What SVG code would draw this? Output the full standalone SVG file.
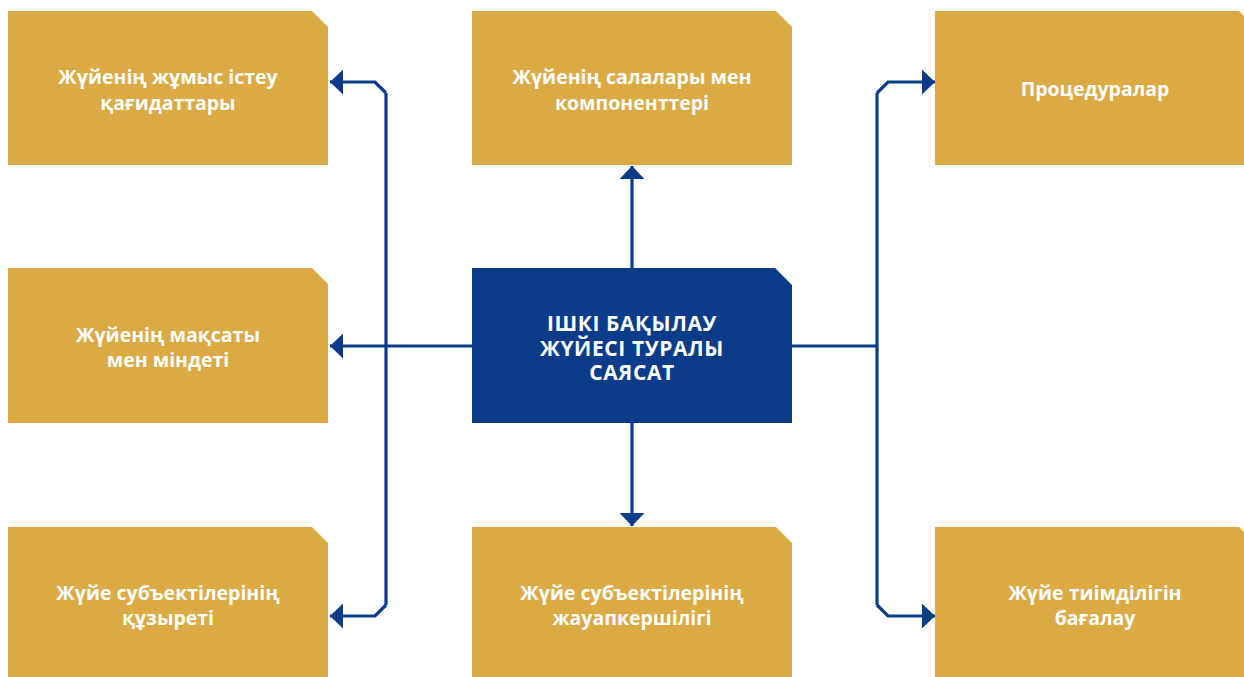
<svg xmlns="http://www.w3.org/2000/svg" width="1244" height="677" viewBox="0 0 1244 677">
<style>
.box{fill:#DBAA44}
.main{fill:#0A3C89}
.t{font-family:"Open Sans","Noto Sans","DejaVu Sans",sans-serif;font-weight:700;font-size:19.5px;fill:#fff;text-anchor:middle}
.h{font-size:21px;letter-spacing:0.6px}
.c{fill:none;stroke:#0A3C89;stroke-width:3.2}
</style>
<defs>
<marker id="ah" viewBox="0 0 13 25" refX="13" refY="12.5" markerWidth="13" markerHeight="25" markerUnits="userSpaceOnUse" orient="auto">
<path d="M0,0 L13,12.5 L0,25 Z" fill="#0A3C89"/>
</marker>
</defs>
<g id="connectors">
<path class="c" d="M386,93 L386,605"/>
<path class="c" d="M386,93 L375,82 L330,82" marker-end="url(#ah)"/>
<path class="c" d="M386,605 L375,616 L330,616" marker-end="url(#ah)"/>
<path class="c" d="M472,346 L330,346" marker-end="url(#ah)"/>
<path class="c" d="M632,268 L632,166" marker-end="url(#ah)"/>
<path class="c" d="M632,423 L632,526" marker-end="url(#ah)"/>
<path class="c" d="M792,346 L877,346"/>
<path class="c" d="M877,93 L877,605"/>
<path class="c" d="M877,93 L888,82 L935,82" marker-end="url(#ah)"/>
<path class="c" d="M877,605 L888,616 L935,616" marker-end="url(#ah)"/>
</g>
<g id="n1">
<path class="box" d="M8,11 L312,11 L328,27 L328,165 L8,165 Z"/>
<text class="t" x="168" y="84">Жүйенің жұмыс істеу</text>
<text class="t" x="168" y="110">қағидаттары</text>
</g>
<g id="n2">
<path class="box" d="M472,11 L776,11 L792,27 L792,165 L472,165 Z"/>
<text class="t" x="632" y="84">Жүйенің салалары мен</text>
<text class="t" x="632" y="110">компоненттері</text>
</g>
<g id="n3">
<path class="box" d="M935,11 L1239,11 L1255,27 L1255,165 L935,165 Z"/>
<text class="t" x="1095" y="96">Процедуралар</text>
</g>
<g id="n4">
<path class="box" d="M8,268 L312,268 L328,284 L328,423 L8,423 Z"/>
<text class="t" x="168" y="342">Жүйенің мақсаты</text>
<text class="t" x="168" y="367">мен міндеті</text>
</g>
<g id="center">
<path class="main" d="M472,268 L775,268 L792,285 L792,423 L472,423 Z"/>
<text class="t h" x="632" y="331">ІШКІ БАҚЫЛАУ</text>
<text class="t h" x="632" y="356">ЖҮЙЕСІ ТУРАЛЫ</text>
<text class="t h" x="632" y="380">САЯСАТ</text>
</g>
<g id="n5">
<path class="box" d="M8,527 L312,527 L328,543 L328,681 L8,681 Z"/>
<text class="t" x="168" y="600">Жүйе субъектілерінің</text>
<text class="t" x="168" y="625">құзыреті</text>
</g>
<g id="n6">
<path class="box" d="M472,527 L776,527 L792,543 L792,681 L472,681 Z"/>
<text class="t" x="632" y="600">Жүйе субъектілерінің</text>
<text class="t" x="632" y="625">жауапкершілігі</text>
</g>
<g id="n7">
<path class="box" d="M935,527 L1239,527 L1255,543 L1255,681 L935,681 Z"/>
<text class="t" x="1095" y="600">Жүйе тиімділігін</text>
<text class="t" x="1095" y="625">бағалау</text>
</g>
</svg>
